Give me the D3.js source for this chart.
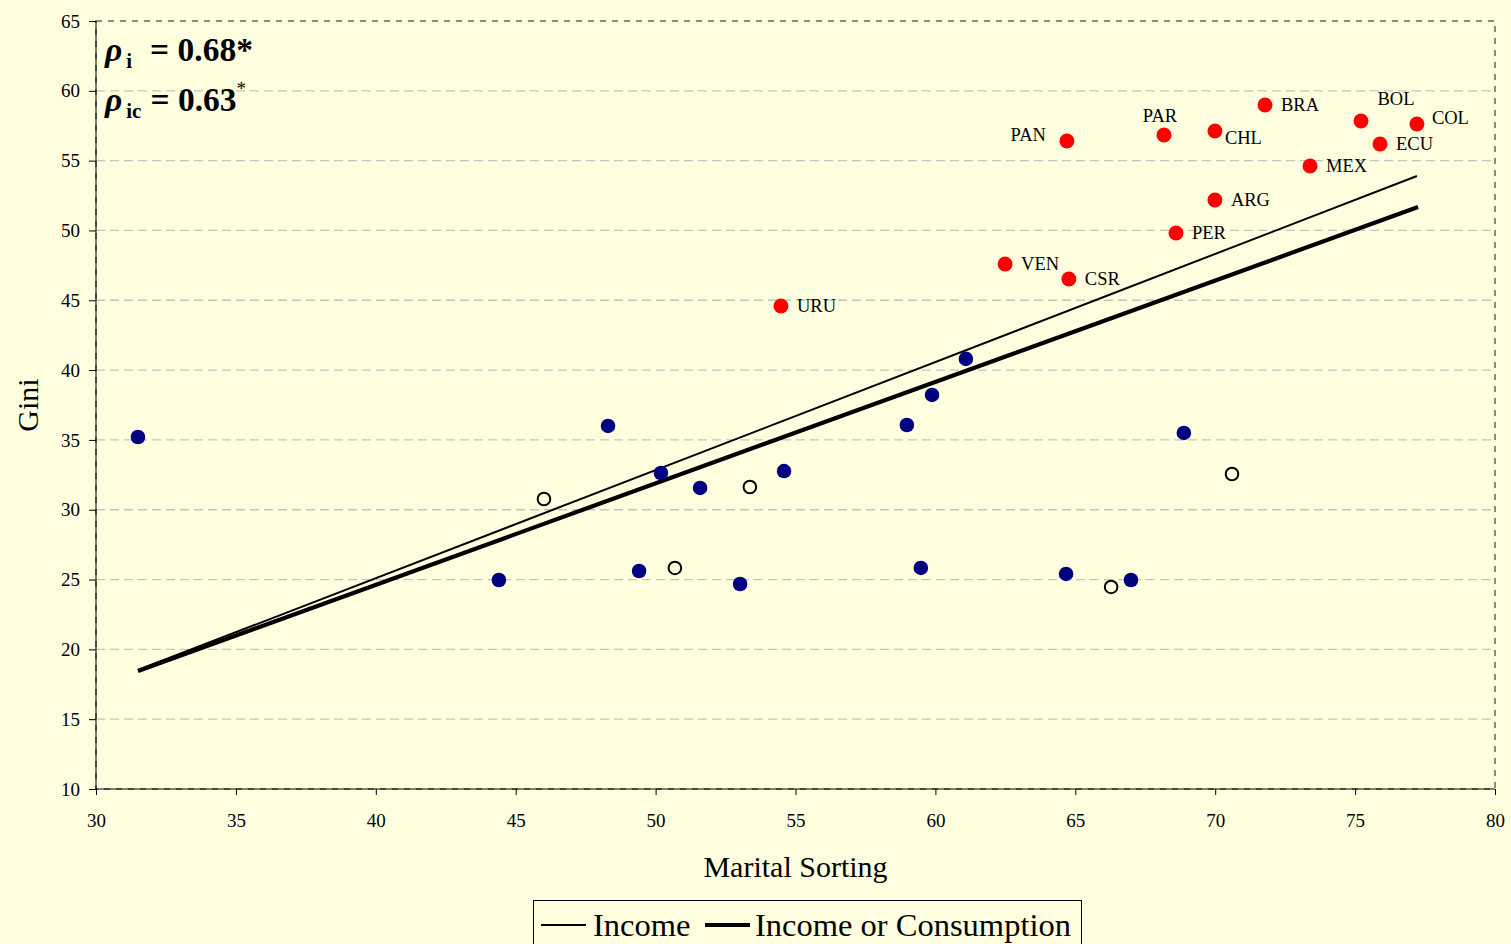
<!DOCTYPE html>
<html><head><meta charset="utf-8">
<script src="https://cdn.jsdelivr.net/npm/d3@7"></script>
<style>
html,body{margin:0;padding:0;background:#FFFFE0;}
svg{display:block;}
svg text{font-family:"Liberation Serif","Times New Roman",serif !important;}
</style></head>
<body>
<script>
// ---- data ----
const latamCodes = ["URU","VEN","CSR","PAN","PAR","CHL","BRA","ARG","PER","MEX","BOL","ECU","COL"];
const latamX = [54.48,62.49,64.77,64.70,68.17,69.99,71.78,69.99,68.60,73.39,75.21,75.89,77.21];
const latamY = [44.59,47.60,46.52,56.41,56.84,57.12,58.98,52.18,49.82,54.62,57.84,56.19,57.62];
const latamLabelPos = ["right","right","right","leftUp","up","rightDown","right","right","right","right","upRight","right","rightUp"];

const incomeX = [31.50,44.40,48.30,49.41,50.19,51.59,53.02,54.59,58.98,59.48,59.88,61.09,64.67,66.99,68.88];
const incomeY = [35.21,24.97,36.00,25.61,32.63,31.56,24.68,32.77,36.07,25.83,38.22,40.80,25.40,24.97,35.50];

const consX = [46.01,50.69,53.37,66.28,70.60];
const consY = [30.77,25.83,31.63,24.47,32.56];

const fitIncomeX = [31.5,77.21];
const fitIncomeY = [18.52,53.90];
const fitBothX = [31.5,77.25];
const fitBothY = [18.45,51.68];

const xTicks = [30,35,40,45,50,55,60,65,70,75,80];
const yTicks = [10,15,20,25,30,35,40,45,50,55,60,65];

// ---- layout ----
const W = 1511, H = 944;
const L = 96, R = 1495, T = 21, B = 789;
const FONT = "Liberation Serif, Times New Roman, serif";

const svg = d3.select("body").append("svg").attr("width", W).attr("height", H)
  .attr("font-family", FONT);
svg.append("rect").attr("width", W).attr("height", H).attr("fill", "#FFFFE0");

const x = d3.scaleLinear().domain([30,80]).range([L,R]);
const y = d3.scaleLinear().domain([10,65]).range([B,T]);

// gridlines
svg.append("g").selectAll("line").data(yTicks.filter(d => d > 10 && d < 65)).join("line")
  .attr("x1", L).attr("x2", R).attr("y1", d => y(d)).attr("y2", d => y(d))
  .attr("stroke", "#C4C4C4").attr("stroke-width", 1.3).attr("stroke-dasharray", "9,5");

// plot border dashed
svg.append("rect").attr("x", L).attr("y", T).attr("width", R - L).attr("height", B - T)
  .attr("fill", "none").attr("stroke", "#8a8a8a").attr("stroke-width", 2).attr("stroke-dasharray", "6,6");

// axes
const xAxis = d3.axisBottom(x).tickValues(xTicks).tickSize(6).tickPadding(19).tickFormat(d3.format("d"));
const yAxis = d3.axisLeft(y).tickValues(yTicks).tickSize(7).tickPadding(9).tickFormat(d3.format("d"));
const gx = svg.append("g").attr("transform", `translate(0,${B})`).call(xAxis);
const gy = svg.append("g").attr("transform", `translate(${L},0)`).call(yAxis);
[gx, gy].forEach(g => {
  g.attr("font-family", FONT).attr("font-size", 19);
  g.select(".domain").attr("stroke", "#000").attr("stroke-width", 1);
  g.selectAll(".tick line").attr("stroke", "#000");
  g.selectAll("text").attr("font-size", 19).attr("fill", "#000").style("font-family", FONT);
});
gx.select(".domain").attr("d", `M${L},0H${R}`);
gy.select(".domain").attr("d", `M0,${B}V${T}`);

// fit lines
const line = d3.line().x(d => x(d[0])).y(d => y(d[1]));
svg.append("path").datum(d3.zip(fitIncomeX, fitIncomeY)).attr("d", line)
  .attr("stroke", "#000").attr("stroke-width", 2).attr("fill", "none");
svg.append("path").datum(d3.zip(fitBothX, fitBothY)).attr("d", line)
  .attr("stroke", "#000").attr("stroke-width", 4.2).attr("fill", "none");

// points
svg.append("g").selectAll("circle").data(d3.zip(incomeX, incomeY)).join("circle")
  .attr("cx", d => x(d[0])).attr("cy", d => y(d[1])).attr("r", 7.3).attr("fill", "#000080");
svg.append("g").selectAll("circle").data(d3.zip(consX, consY)).join("circle")
  .attr("cx", d => x(d[0])).attr("cy", d => y(d[1])).attr("r", 6.3)
  .attr("fill", "#FFFFE0").attr("stroke", "#000").attr("stroke-width", 2);
const latam = latamCodes.map((c, i) => ({c, x: latamX[i], y: latamY[i], p: latamLabelPos[i]}));
svg.append("g").selectAll("circle").data(latam).join("circle")
  .attr("cx", d => x(d.x)).attr("cy", d => y(d.y)).attr("r", 7.5).attr("fill", "#FF0000");

const off = {
  right: [16, 6, "start"], leftUp: [-21, 0, "end"], up: [-4, -13, "middle"],
  rightDown: [10, 13, "start"], upRight: [35, -16, "middle"], rightUp: [15, 0, "start"]
};
svg.append("g").selectAll("text").data(latam).join("text")
  .attr("x", d => x(d.x) + off[d.p][0]).attr("y", d => y(d.y) + off[d.p][1])
  .attr("text-anchor", d => off[d.p][2]).attr("font-size", 18.5).attr("fill", "#000")
  .text(d => d.c);

// axis titles
svg.append("text").attr("x", (L + R) / 2).attr("y", 877).attr("text-anchor", "middle")
  .attr("font-size", 30).text("Marital Sorting");
svg.append("text").attr("transform", `translate(38,${(T + B) / 2}) rotate(-90)`)
  .attr("text-anchor", "middle").attr("font-size", 30).text("Gini");

// correlation annotation
const ann = svg.append("g").attr("font-weight", "bold");
const t1 = ann.append("text").attr("x", 105).attr("y", 61).attr("font-size", 33.5);
t1.append("tspan").attr("font-style", "italic").text("ρ");
t1.append("tspan").attr("font-size", 21).attr("dy", 7).attr("dx", 4).text("i");
t1.append("tspan").attr("dy", -7).attr("dx", 18).text("= 0.68*");
const t2 = ann.append("text").attr("x", 105).attr("y", 111).attr("font-size", 33.5);
t2.append("tspan").attr("font-style", "italic").text("ρ");
t2.append("tspan").attr("font-size", 21).attr("dy", 7).attr("dx", 4).text("ic");
t2.append("tspan").attr("dy", -7).attr("dx", 9).text("= 0.63");
t2.append("tspan").attr("font-size", 19).attr("font-weight", "normal").attr("dy", -16).text("*");

// legend
const lg = svg.append("g");
lg.append("rect").attr("x", 533.5).attr("y", 900.5).attr("width", 548).attr("height", 60)
  .attr("fill", "#FFFFE0").attr("stroke", "#000").attr("stroke-width", 1);
lg.append("line").attr("x1", 541).attr("x2", 586).attr("y1", 925).attr("y2", 925)
  .attr("stroke", "#000").attr("stroke-width", 2);
lg.append("text").attr("x", 593).attr("y", 936).attr("font-size", 32.5).text("Income");
lg.append("line").attr("x1", 705).attr("x2", 750).attr("y1", 925).attr("y2", 925)
  .attr("stroke", "#000").attr("stroke-width", 4);
lg.append("text").attr("x", 755).attr("y", 936).attr("font-size", 32.5).text("Income or Consumption");
</script>
</body></html>
